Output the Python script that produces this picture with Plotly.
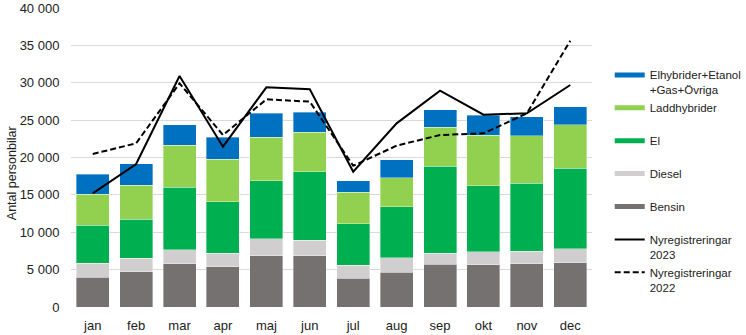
import plotly.graph_objects as go

months = ["jan", "feb", "mar", "apr", "maj", "jun", "jul", "aug", "sep", "okt", "nov", "dec"]

# Segment values
bensin = [3970, 4720, 5800, 5400, 6870, 6870, 3880, 4680, 5750, 5660, 5800, 5890]
diesel = [1880, 1790, 1870, 1780, 2270, 2090, 1690, 1920, 1470, 1700, 1690, 1910]
el = [5120, 5260, 8380, 6910, 7720, 9140, 5580, 6780, 11640, 8870, 9050, 10750]
laddhybrider = [4110, 4550, 5620, 5710, 5880, 5310, 4230, 3920, 5220, 6780, 6340, 5800]
elhybrider = [2670, 2850, 2720, 2940, 3170, 2630, 1520, 2370, 2320, 2630, 2540, 2410]

nyreg_2023 = [15210, 19130, 30900, 21450, 29390, 29120, 18100, 24570, 28940, 25730, 25910, 29700]
nyreg_2022 = [20470, 21900, 29920, 23010, 27780, 27470, 18900, 21580, 23010, 23230, 25910, 35630]

y_title = "Antal personbilar"

bar_series = [
    ("Bensin", bensin, "#767171"),
    ("Diesel", diesel, "#D0CECE"),
    ("El", el, "#00B050"),
    ("Laddhybrider", laddhybrider, "#92D050"),
    ("Elhybrider+Etanol<br>+Gas+Övriga", elhybrider, "#0070C0"),
]
legend_rank = {"Elhybrider+Etanol<br>+Gas+Övriga": 1, "Laddhybrider": 2, "El": 3, "Diesel": 4, "Bensin": 5}

fig = go.Figure()
for name, vals, col in bar_series:
    fig.add_trace(go.Bar(
        x=months, y=vals, name=name,
        marker=dict(color=col, line=dict(color="rgba(255,255,255,0.6)", width=0.6)),
        showlegend=False, hoverinfo="skip",
    ))
# legend-only entries drawn as thick lines, like the reference legend
for name, vals, col in bar_series:
    label = name if "<br>" in name else name + "<br>&nbsp;"
    fig.add_trace(go.Scatter(
        x=[None], y=[None], mode="lines", name=label,
        line=dict(color=col, width=5), legendrank=legend_rank[name],
    ))

fig.add_trace(go.Scatter(
    x=months, y=nyreg_2023, mode="lines", name="Nyregistreringar<br>2023",
    line=dict(color="black", width=2), legendrank=6,
))
fig.add_trace(go.Scatter(
    x=months, y=nyreg_2022, mode="lines", name="Nyregistreringar<br>2022",
    line=dict(color="black", width=2, dash="6px,3px"), legendrank=7,
))

font_family = "Liberation Sans, Arial, sans-serif"
fig.update_layout(
    width=746, height=335,
    margin=dict(l=71, r=154, t=8, b=28, autoexpand=False),
    barmode="stack", bargap=0.24,
    paper_bgcolor="white", plot_bgcolor="white",
    font=dict(family=font_family, size=13, color="#222222"),
    separators=", ",
    showlegend=True,
    legend=dict(
        x=1.034, xanchor="left", y=0.823, yanchor="top",
        traceorder="normal", valign="top", tracegroupgap=0,
        font=dict(size=11.5, color="#222222"), itemwidth=30,
        bgcolor="rgba(0,0,0,0)",
    ),
    annotations=[dict(
        text=y_title, textangle=-90, xref="paper", yref="paper",
        x=-0.113, y=0.448, xanchor="center", yanchor="middle",
        showarrow=False, font=dict(size=12.5, color="#222222"),
    )],
)
fig.update_yaxes(
    range=[0, 40000], dtick=5000, tickformat=",d", automargin=False,
    showgrid=True, gridcolor="#D9D9D9", gridwidth=1,
    zeroline=False, showline=False, ticks="outside", ticklen=8, tickcolor="rgba(0,0,0,0)",
)
fig.update_xaxes(showgrid=False, showline=False, zeroline=False, automargin=False,
                 ticks="outside", ticklen=6, tickcolor="rgba(0,0,0,0)")

fig.write_html("out.html")
